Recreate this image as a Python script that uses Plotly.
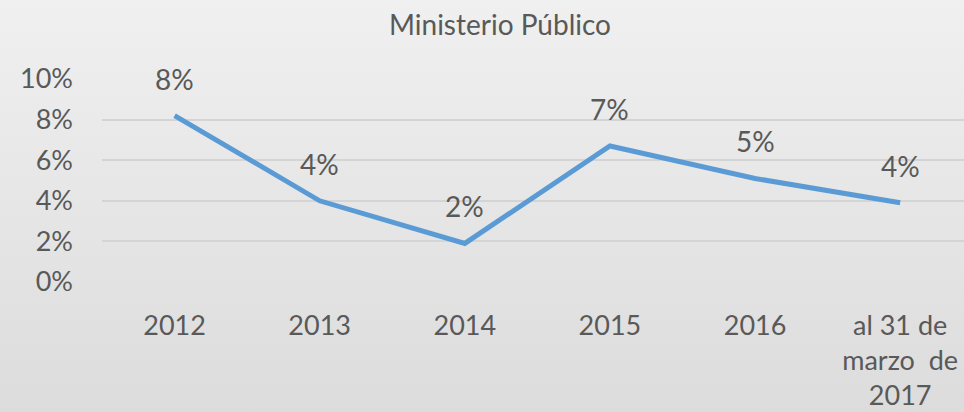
import plotly.graph_objects as go

# data
categories = ["2012", "2013", "2014", "2015", "2016", "al 31 de<br>marzo  de<br>2017"]
values = [0.082, 0.040, 0.019, 0.067, 0.051, 0.039]
labels = ["8%", "4%", "2%", "7%", "5%", "4%"]
y_ticks = [0, 0.02, 0.04, 0.06, 0.08, 0.10]
y_ticktext = ["0%", "2%", "4%", "6%", "8%", "10%"]

text_color = "#595959"
font_family = "Lato, 'Open Sans', sans-serif"

W, H = 964, 412
ML, MR, MT, MB = 102, 0, 79, 130
pw, ph = W - ML - MR, H - MT - MB

fig = go.Figure()

fig.add_trace(go.Scatter(
    x=list(range(len(categories))),
    y=values,
    mode="lines",
    line=dict(color="#5b9bd5", width=5),
    hoverinfo="skip",
    showlegend=False,
))

# data labels above each point
for i, (v, lab) in enumerate(zip(values, labels)):
    fig.add_annotation(
        x=i, y=v, text=lab, showarrow=False, yshift=37,
        font=dict(size=28, color=text_color, family=font_family),
    )

# soft vertical gradient background over the whole chart
bg_svg = (
    "data:image/svg+xml;utf8,"
    "<svg xmlns='http://www.w3.org/2000/svg' width='10' height='10' preserveAspectRatio='none'>"
    "<defs><linearGradient id='g' x1='0' y1='0' x2='0' y2='1'>"
    "<stop offset='0' stop-color='%23f0f0f0'/><stop offset='1' stop-color='%23dcdcdc'/>"
    "</linearGradient></defs><rect width='10' height='10' fill='url(%23g)'/></svg>"
)
fig.add_layout_image(
    source=bg_svg, xref="paper", yref="paper",
    x=-ML / pw, y=1 + MT / ph, sizex=W / pw, sizey=H / ph,
    xanchor="left", yanchor="top", sizing="stretch", layer="below",
)

fig.update_layout(
    width=W,
    height=H,
    margin=dict(l=ML, r=MR, t=MT, b=MB),
    paper_bgcolor="#e6e6e6",
    plot_bgcolor="rgba(0,0,0,0)",
    font=dict(family=font_family, color=text_color),
    title=dict(
        text="Ministerio Público",
        x=500 / W, xanchor="center",
        y=1 - 25 / H, yanchor="middle",
        font=dict(size=28, color=text_color, family=font_family),
    ),
    xaxis=dict(
        tickmode="array",
        tickvals=list(range(len(categories))),
        ticktext=categories,
        range=[-0.5, 5.44],
        showgrid=False,
        zeroline=False,
        showline=False,
        ticks="",
        ticklabelstandoff=25,
        tickfont=dict(size=27, color=text_color),
        fixedrange=True,
    ),
    yaxis=dict(
        range=[0, 0.10],
        tickvals=y_ticks,
        ticktext=y_ticktext,
        showgrid=True,
        gridcolor="#d4d4d4",
        gridwidth=1.5,
        zeroline=False,
        showline=False,
        ticks="",
        ticklabelstandoff=28,
        tickfont=dict(size=27, color=text_color),
        fixedrange=True,
    ),
)

fig.write_html(
    "out.html",
    config={"displayModeBar": False},
    post_script="document.body.style.margin='0';document.body.style.overflow='hidden';",
)
